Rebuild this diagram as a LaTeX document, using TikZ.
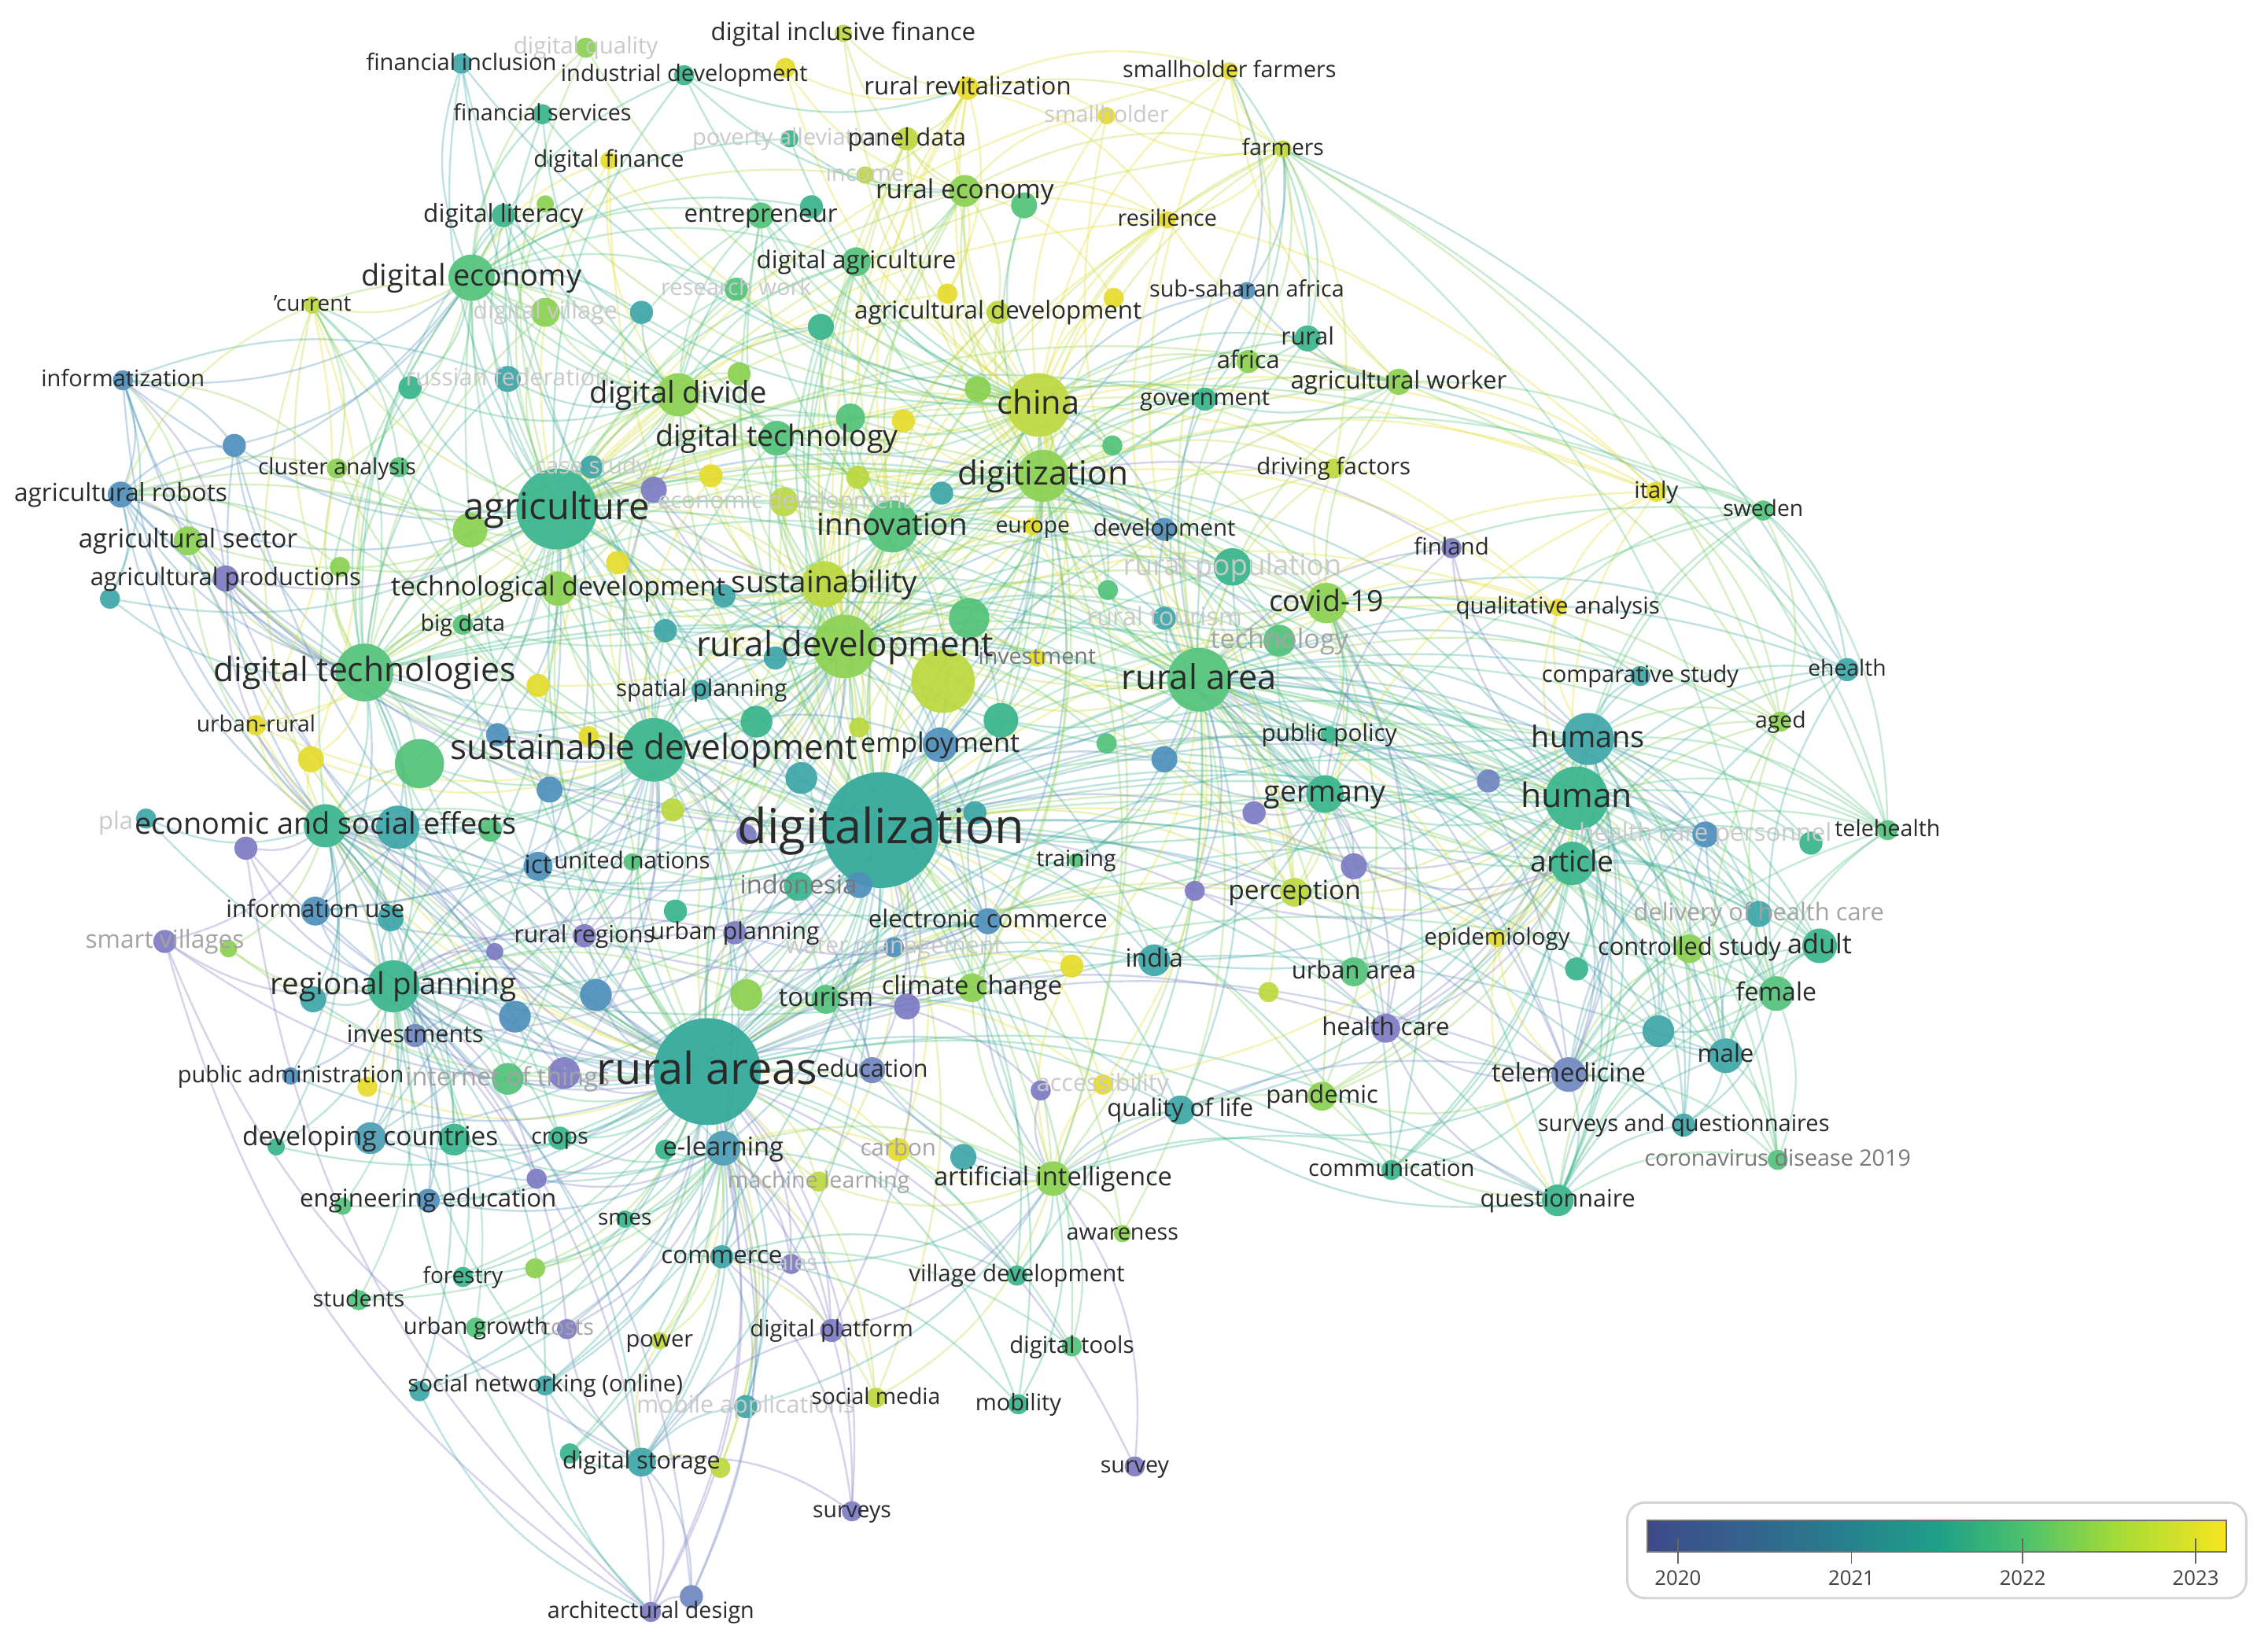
\documentclass[tikz,border=0pt]{standalone}
\usepackage{fontspec}
\setmainfont{Open Sans}
\pgfdeclarelayer{back}
\pgfdeclarelayer{bg}
\pgfdeclarelayer{fgl}
\pgfdeclarelayer{fg}
\pgfsetlayers{back,bg,main,fgl,fg}
\definecolor{v0}{HTML}{7D7BC3}
\definecolor{v0b}{HTML}{6F86C0}
\definecolor{v1}{HTML}{4E8FBB}
\definecolor{v1b}{HTML}{4D9DB6}
\definecolor{v2}{HTML}{3EA5A8}
\definecolor{v2c}{HTML}{2FA898}
\definecolor{v3}{HTML}{38B58C}
\definecolor{v4}{HTML}{52C27A}
\definecolor{v5}{HTML}{8AD152}
\definecolor{v6}{HTML}{BCD83E}
\definecolor{v7}{HTML}{E5DC2C}
\definecolor{lab}{HTML}{2A2A2A}
\definecolor{g1}{HTML}{C9C9C9}
\definecolor{g2}{HTML}{A3A3A3}
\definecolor{g3}{HTML}{777777}
\tikzset{
  dot/.style={circle, inner sep=0pt, outer sep=0pt, draw=none, fill opacity=0.92},
  lbl/.style={anchor=base, inner sep=0pt, outer sep=0pt},
  lnk/.style={line width=0.65pt, draw opacity=0.33},
}
\newcommand\dotn[5]{\colorlet{c#1}{#5}\node[dot, fill=#5, minimum size=#4pt] (#1) at (#2,#3) {};}
\newcommand\kw[8]{\dotn{#1}{#2}{#3}{#4}{#5}\begin{pgfonlayer}{fg}\node[lbl, text=#8, font=\fontsize{#7}{#7}\selectfont, yshift={-0.28*#7pt}] (l#1) at (#2,#3) {#6};\end{pgfonlayer}}
\newcommand\kwg[8]{\dotn{#1}{#2}{#3}{#4}{#5}\begin{pgfonlayer}{fgl}\node[lbl, text=#8, font=\fontsize{#7}{#7}\selectfont, yshift={-0.28*#7pt}] (l#1) at (#2,#3) {#6};\end{pgfonlayer}}
\newcommand\hub[2]{\foreach \b in {#2}{\draw[lnk, draw=c\b] (#1) to[bend left=20] (\b);}}
\begin{document}
\begin{tikzpicture}[x=0.5pt,y=-0.5pt]
\begin{pgfonlayer}{back}
\fill[white] (0,0) rectangle (1568,1131);
\end{pgfonlayer}
\path[use as bounding box] (0,0) rectangle (1568,1131);
% ---------- top
\kw{dif}{583}{23}{6}{v6}{digital inclusive finance}{8.5}{lab}
\kwg{dq}{405}{33}{7}{v5}{digital quality}{8}{g1}
\kw{fin}{319}{44}{7}{v2}{financial inclusion}{7.9}{lab}
\kw{ind}{473}{52}{7}{v3}{industrial development}{7.9}{lab}
\dotn{xy1}{543}{47}{7}{v7}
\kw{shf}{850}{49}{6}{v7}{smallholder farmers}{7.8}{lab}
\kw{rrv}{669}{61}{8}{v7}{rural revitalization}{8.5}{lab}
\kwg{sh}{765}{80}{6}{v7}{smallholder}{7.8}{g1}
\kw{fs}{375}{79}{7}{v3}{financial services}{7.8}{lab}
\kwg{pov}{546}{96}{6}{v3}{poverty alleviation}{7.9}{g1}
\kw{pd}{627}{96}{8}{v6}{panel data}{8.3}{lab}
\kw{far}{887}{103}{6}{v6}{farmers}{7.7}{lab}
\kw{df}{421}{111}{6}{v7}{digital finance}{8}{lab}
\kwg{inc}{598}{121}{6}{v6}{income}{7.9}{g1}
\dotn{xg0}{708}{142}{9}{v4}
\kw{re}{667}{132}{11}{v5}{rural economy}{9.1}{lab}
\dotn{xl1}{377}{141}{6}{v5}
\kw{dl}{348}{149}{8}{v3}{digital literacy}{8.6}{lab}
\dotn{xt0}{561}{143}{8}{v3}
\kw{ent}{526}{149}{9}{v4}{entrepreneur}{8.5}{lab}
\kw{res}{807}{152}{6}{v7}{resilience}{7.8}{lab}
\kw{dag}{592}{181}{10}{v4}{digital agriculture}{8.5}{lab}
\kw{dec}{326}{192}{16}{v4}{digital economy}{10.3}{lab}
\kwg{rw}{509}{200}{8}{v4}{research work}{7.9}{g1}
\kw{ssa}{862}{201}{6}{v1}{sub-saharan africa}{7.8}{lab}
\dotn{xy2}{655}{203}{7}{v7}
\dotn{xy3}{770}{206}{7}{v7}
\kw{cur}{216}{211}{6}{v6}{'current}{7.6}{lab}
\kwg{dv}{377}{216}{10}{v5}{digital village}{8.3}{g1}
\dotn{xt1}{443.5}{216}{8}{v2}
\kw{adv}{690}{216}{8}{v6}{agricultural development}{8.5}{lab}
\dotn{xt2}{567.5}{226}{9}{v3}
\kw{rur}{904}{234}{9}{v3}{rural}{8.3}{lab}
\kw{afr}{863}{250}{8}{v5}{africa}{8.4}{lab}
\dotn{xg2}{511}{258.5}{8}{v5}
\kw{infz}{85}{263}{7}{v1}{informatization}{7.9}{lab}
\dotn{xrf}{283.5}{268}{8}{v3}
\kwg{rf}{351}{262}{9}{v2}{russian federation}{8.3}{g1}
\kw{aw}{967}{264}{9}{v5}{agricultural worker}{8.5}{lab}
\dotn{xlg2}{676}{269}{9}{v5}
\kw{ddiv}{469}{273}{15}{v5}{digital divide}{10.4}{lab}
\kw{gov}{833}{276}{8}{v3}{government}{7.9}{lab}
\kw{chn}{718}{280}{22}{v6}{china}{11.3}{lab}
\dotn{xg3}{588}{289}{10}{v4}
\dotn{xy4}{624.5}{291}{8}{v7}
\dotn{xg4}{769}{308}{7}{v4}
\kw{dtech}{537}{303}{12}{v4}{digital technology}{10.2}{lab}
\dotn{xb1}{162}{308}{8}{v1}
\kwg{cs}{409}{323}{8}{v2}{case study}{8}{g1}
\dotn{xg1}{276}{323}{7}{v4}
\kw{ca}{233}{324}{7}{v5}{cluster analysis}{7.7}{lab}
\kw{drv}{922}{324}{7}{v6}{driving factors}{8}{lab}
\dotn{xy5}{491.6}{329}{8}{v7}
\dotn{xlg3}{593}{330}{8}{v6}
\kw{dgt}{721}{329}{18}{v5}{digitization}{11.5}{lab}
\dotn{xp1}{452}{338.6}{9}{v0}
\dotn{xt3}{651}{341}{8}{v2}
\kw{ita}{1145}{340}{7}{v7}{italy}{7.9}{lab}
\kw{ar}{83.5}{342}{9}{v1}{agricultural robots}{8.6}{lab}
\kwg{edv}{542}{347}{10}{v6}{economic development}{8}{g1}
\kw{ag}{385}{352}{28}{v3}{agriculture}{12.8}{lab}
\kw{swe}{1219}{353}{7}{v4}{sweden}{7.7}{lab}
\kw{inn}{617}{364}{18}{v4}{innovation}{10.5}{lab}
\kw{eur}{714}{364}{6}{v7}{europe}{7.7}{lab}
\kw{dev}{805}{366}{8}{v1}{development}{8}{lab}
\dotn{xlg1}{325}{366.5}{12}{v5}
\kw{as}{130}{374}{10}{v5}{agricultural sector}{9}{lab}
\kw{fnl}{1003.5}{379}{7}{v0}{finland}{8}{lab}
% ---------- left middle
\kw{apr}{156}{400}{9}{v0}{agricultural productions}{8.4}{lab}
\dotn{xg5}{235}{392}{7}{v5}
\dotn{xt4}{76}{414}{7}{v2}
\kw{tdev}{386}{407}{12}{v5}{technological development}{9.2}{lab}
\kw{bd}{320}{432}{7}{v4}{big data}{7.8}{lab}
\dotn{xy9}{427}{389}{8}{v7}
\kw{dtes}{252}{465}{20}{v4}{digital technologies}{11.6}{lab}
\dotn{xy6}{372}{474}{8}{v7}
\kw{urr}{177}{501.5}{7}{v7}{urban-rural}{7.7}{lab}
\dotn{xtb1}{344}{508}{8}{v1}
\dotn{xy7}{215}{525}{9}{v7}
\dotn{xg6}{290}{528}{17}{v4}
\dotn{xb2}{380}{546}{9}{v1}
\dotn{pla}{101}{566}{7}{v2}
\begin{pgfonlayer}{fgl}\node[lbl, anchor=base east, text=g1, font=\fontsize{8.4}{8.4}\selectfont, yshift={-0.28*8.4pt}] (lpla) at (92,569) {pla};\end{pgfonlayer}
\kw{esoc}{225}{571}{15}{v3}{economic and social effects}{10.3}{lab}
\dotn{esoc2}{275}{572}{15}{v2}
\dotn{xg7}{339}{574}{8}{v4}
\dotn{xp2}{170}{586.5}{8}{v0}
\kw{ict}{372}{599}{10}{v1}{ict}{8.7}{lab}
\kw{un}{437}{596}{6}{v4}{united nations}{8}{lab}
\kw{iu}{218}{630}{10}{v1}{information use}{8.3}{lab}
\dotn{iu2}{270}{635}{9}{v2}
\kwg{sv}{114}{651}{8}{v0}{smart villages}{8.6}{g2}
\dotn{xg8}{158}{656}{6}{v5}
\dotn{xp3}{342}{658}{6}{v0}
\kw{rp}{272}{682}{18}{v3}{regional planning}{10.5}{lab}
\dotn{xt5}{216.5}{691}{9}{v2}
\dotn{xtb2}{356}{703}{11}{v1}
\kw{inv}{287}{716}{8}{v0b}{investments}{8.3}{lab}
\kw{pa}{201}{744}{6}{v1}{public administration}{7.9}{lab}
\dotn{xy8}{254}{751.5}{7}{v7}
\kwg{iot}{351}{746}{11}{v4}{internet of things}{8.8}{g2}
\dotn{xp4}{390}{742}{11}{v0}
% ---------- centre
\kw{sus}{570}{404}{16}{v6}{sustainability}{10.5}{lab}
\dotn{xt6}{500.5}{412}{8}{v2}
\dotn{xg10}{766}{408}{7}{v4}
\dotn{xg9}{670}{427.5}{14}{v4}
\dotn{xt7}{460}{436}{8}{v2}
\kw{rd}{584}{447}{22}{v5}{rural development}{11.9}{lab}
\dotn{xt8}{536}{455}{8}{v2}
\kwg{invs}{717}{455}{6}{v7}{investment}{7.8}{g3}
\dotn{xlb}{652}{471}{22}{v6}
\kw{sp}{485}{477}{7}{v2}{spatial planning}{8}{lab}
\dotn{xg11}{523}{499}{11}{v3}
\dotn{xl2}{594}{503}{7}{v6}
\dotn{xgt}{692}{498}{12}{v3}
\dotn{xg12}{765}{514}{7}{v4}
\dotn{xy10}{407}{509}{7}{v7}
\kw{sd}{452}{518.5}{22}{v3}{sustainable development}{12}{lab}
\kw{emp}{650}{515}{12}{v1}{employment}{9.3}{lab}
\dotn{xt9}{554}{538}{11}{v2}
\dotn{xl3}{465}{560}{8}{v6}
\dotn{xt10}{674}{562}{8}{v2}
\kw{dz}{609}{574}{40}{v2c}{digitalization}{16.7}{lab}
\dotn{xp5}{516}{577}{7}{v0}
\dotn{xb3}{594}{612}{9}{v1}
\kwg{indo}{552}{613}{10}{v3}{indonesia}{8.9}{g3}
\kw{trn}{744}{595}{5}{v4}{training}{7.7}{lab}
\dotn{ers}{467}{630}{8}{v3}
\kw{rreg}{404}{647}{8}{v0}{rural regions}{8.2}{lab}
\kw{up}{508}{645}{8}{v0}{urban planning}{8.2}{lab}
\kw{ec}{683}{637}{9}{v1}{electronic commerce}{8.5}{lab}
\kwg{wm}{618}{655}{7}{v1}{water management}{8.2}{g1}
\dotn{xy11}{741}{668}{8}{v7}
\kw{cc}{672}{683}{10}{v5}{climate change}{8.9}{lab}
\dotn{xbt}{412}{688}{11}{v1}
\dotn{xlg4}{516}{688}{11}{v5}
\kw{tou}{571}{691}{10}{v4}{tourism}{9}{lab}
\dotn{xp6}{627}{696}{9}{v0}
\kw{ra}{489}{741}{37}{v2c}{rural areas}{15.2}{lab}
\kw{edu}{603}{740}{9}{v0b}{education}{8.3}{lab}
% ---------- right centre
\kwg{rpop}{852}{392}{13}{v3}{rural population}{10}{g1}
\kw{cov}{917}{417}{14}{v5}{covid-19}{10.2}{lab}
\kw{qa}{1077}{420}{6}{v7}{qualitative analysis}{8}{lab}
\kwg{rt}{805}{427.5}{8}{v2}{rural tourism}{8.8}{g1}
\kwg{tech}{884.5}{443}{11}{v4}{technology}{9.3}{g2}
\kw{cmp}{1134}{467.5}{7}{v2}{comparative study}{7.9}{lab}
\kw{eh}{1277}{463}{8}{v2}{ehealth}{7.7}{lab}
\kw{rar}{829}{470}{22}{v4}{rural area}{11.8}{lab}
\kw{agd}{1231}{499}{7}{v5}{aged}{7.7}{lab}
\kw{pp}{919}{508}{6}{v3}{public policy}{8.1}{lab}
\kw{hms}{1098}{511}{18}{v2}{humans}{10.3}{lab}
\dotn{xtb3}{805}{525}{9}{v1}
\dotn{xp8}{1029}{540}{8}{v0b}
\kw{ger}{916}{549}{13}{v3}{germany}{10.2}{lab}
\kw{hum}{1090}{552}{22}{v3}{human}{11.6}{lab}
\dotn{xp7}{867}{562}{8}{v0}
\kw{th}{1305}{574}{7}{v4}{telehealth}{7.8}{lab}
\kwg{hcp}{1179}{577}{9}{v1}{health care personnel}{8.6}{g1}
\dotn{xgt2}{1252}{583}{8}{v3}
\kw{art}{1087}{597}{15}{v3}{article}{10.1}{lab}
\dotn{xp9}{936}{599}{9}{v0}
\dotn{xp10}{826}{616}{7}{v0}
\kw{per}{895}{617}{10}{v6}{perception}{9.1}{lab}
\kwg{dhc}{1216}{632}{9}{v2}{delivery of health care}{8.4}{g2}
\kw{epi}{1035}{649}{6}{v7}{epidemiology}{8}{lab}
\kw{adu}{1258}{654}{12}{v3}{adult}{9.3}{lab}
\kw{cst}{1168}{656}{10}{v5}{controlled study}{8.4}{lab}
\kw{ind2}{798}{664}{11}{v2}{india}{8.7}{lab}
\dotn{xtg}{1090}{670}{8}{v3}
\kw{ua}{936}{672}{10}{v4}{urban area}{8.4}{lab}
\dotn{xl4}{877}{686}{7}{v6}
\kw{fem}{1228}{687}{12}{v4}{female}{8.7}{lab}
\kw{hc}{958}{711}{10}{v0}{health care}{8.5}{lab}
\dotn{xt11}{1146.5}{713}{11}{v2}
\kw{mal}{1193}{730}{12}{v2}{male}{8.5}{lab}
\kw{tm}{1084.5}{743}{12}{v0b}{telemedicine}{8.9}{lab}
\kwg{acc}{762.5}{750}{7}{v7}{accessibility}{8.3}{g1}
\dotn{xp11}{719.5}{754}{7}{v0}
\kw{pan}{914}{758}{10}{v5}{pandemic}{8.4}{lab}
\kw{qol}{816}{767.5}{10}{v2}{quality of life}{8.4}{lab}
\kw{saq}{1164}{778}{8}{v2}{surveys and questionnaires}{7.9}{lab}
\kwg{cd}{1229}{802}{7}{v4}{coronavirus disease 2019}{7.8}{g3}
\kw{com}{962}{809}{7}{v3}{communication}{7.9}{lab}
\kw{que}{1077}{830}{11}{v3}{questionnaire}{8.3}{lab}
\kw{svy}{784.5}{1014}{7}{v0}{survey}{7.8}{lab}
% ---------- bottom
\kw{dc}{256}{787}{11}{v1b}{developing countries}{9.1}{lab}
\dotn{dc2}{314}{788}{11}{v3}
\dotn{xt12}{191}{793}{6}{v3}
\kw{crp}{387}{787}{8}{v3}{crops}{7.7}{lab}
\dotn{xp12}{371}{815}{7}{v0}
\kw{ee}{296}{830}{8}{v1}{engineering education}{8.5}{lab}
\dotn{xg13}{237}{834}{6}{v4}
\dotn{xl5}{370}{877}{7}{v5}
\kw{fst}{320}{883}{7}{v3}{forestry}{7.6}{lab}
\kw{stu}{248}{899}{7}{v4}{students}{7.8}{lab}
\kw{ug}{329}{918}{7}{v4}{urban growth}{7.9}{lab}
\kwg{cst2}{392}{919}{7}{v0}{costs}{7.8}{g2}
\kw{sno}{377}{958}{7}{v2}{social networking (online)}{8}{lab}
\dotn{xt13}{290}{962}{7}{v2}
\dotn{xtg2}{394}{1005}{7}{v3}
\kw{ds}{443.5}{1011}{10}{v2}{digital storage}{8.3}{lab}
\dotn{xl6}{498}{1015}{7}{v6}
\dotn{xg14}{460}{795}{7}{v3}
\kw{el}{500}{794}{12}{v1b}{e-learning}{8.9}{lab}
\kwg{crb}{621}{795}{8}{v7}{carbon}{8}{g2}
\dotn{xt14}{666}{800}{9}{v2}
\kwg{ml}{566}{817}{7}{v6}{machine learning}{7.8}{g2}
\kw{ai}{728}{815}{12}{v5}{artificial intelligence}{8.9}{lab}
\kw{sme}{432}{843}{6}{v3}{smes}{7.6}{lab}
\kw{awa}{776}{853}{6}{v5}{awareness}{7.8}{lab}
\kw{cmm}{499}{869}{8}{v2}{commerce}{8.5}{lab}
\kwg{sal}{547}{874}{7}{v0}{sales}{7.8}{g1}
\kw{vd}{703}{882}{7}{v3}{village development}{8}{lab}
\kw{dp}{575}{920}{8}{v0}{digital platform}{7.9}{lab}
\kw{pow}{456}{927}{6}{v6}{power}{7.9}{lab}
\kw{dto}{741}{931}{7}{v4}{digital tools}{8}{lab}
\kw{smd}{605.5}{966.5}{7}{v6}{social media}{7.7}{lab}
\kw{mob}{704}{971}{7}{v3}{mobility}{7.9}{lab}
\kwg{mapp}{515.6}{972.6}{8}{v2}{mobile applications}{8.3}{g1}
\kw{svs}{589}{1045}{7}{v0}{surveys}{7.7}{lab}
\dotn{xp13}{478}{1104}{8}{v0b}
\kw{arc}{450}{1114.6}{7}{v0}{architectural design}{7.8}{lab}
% ---------- links
\begin{pgfonlayer}{bg}
\hub{dz}{ag,ra,rd,sd,rar,hum,hms,art,dgt,chn,inn,dtes,esoc,rp,sus,ddiv,dtech,dec,emp,ec,cc,tou,edu,ger,per,ind2,ua,hc,tm,el,ai,cmm,dp,qol,pan,com,que,mal,fem,adu,cst,hcp,cov,rpop,tech,pp,iu,ict,un,rreg,up,wm,indo,trn,tdev,bd,dl,ent,dag,adv,gov,aw,rur,drv,dev,eur,dc,ee,iot,inv,crp,ds,sno,mob,smd,dto,vd,crb,ml,awa,xlb,xg9,xgt,xt9,xb3,xt10,xg11,xlg4,xp6,xp9,xp8,xt11,epi,dhc,saq,th,xtb3,sp,xlg2,re,rrv,pd,fin,df,apr,ar,as,esoc2,xg6,xb2,xbt,cs,edv,xt3,xy11,acc,qa,cmp}
\hub{ra}{ag,rd,sd,dtes,esoc,esoc2,rp,iu,iu2,dc,dc2,ee,fst,stu,ug,sno,ds,el,cmm,sme,pow,dp,mapp,smd,svs,arc,xp13,crp,iot,inv,pa,xy8,xtb2,xt5,sv,xg8,xp2,ict,un,rreg,up,tou,edu,cc,ai,qol,hum,hms,art,rar,tm,hc,per,ind2,ger,dgt,inn,sus,ddiv,dec,ar,as,apr,infz,xb1,bd,tdev,xg6,xb2,xy7,urr,xbt,xlg4,xp4,xp12,xl5,xt12,xg13,xt13,xtg2,xl6,crb,ml,vd,mob,dto,com,que,mal,fem,svy,cst2,sal,xt14,xg14,chn,emp,ec,wm,indo,xp6,xt9,pla,xp3,xg7}
\hub{ag}{dec,dl,fin,fs,ind,df,dv,cur,infz,xrf,rf,xb1,ca,xg1,ar,xlg1,as,apr,xt4,xg5,tdev,bd,dtes,cs,xp1,xy5,ddiv,dtech,dag,ent,rw,xt1,xt2,chn,dgt,inn,sus,rd,sd,esoc,rp,rar,hum,ger,cov,rpop,edv,xy9,xt6,xt7,sp,ict,iu,iot,ai,el,dc,xy6,urr,xtb1,xg6,dev,eur,adv,re,far,shf,res,xg2,aw,gov,swe,ita,xl1,dq,xy2,xg3}
\hub{rd}{sus,inn,dgt,chn,ddiv,dtech,dag,ent,adv,re,rrv,pd,xg3,xy4,xlg3,edv,xt3,xt6,xt7,xt8,sp,xg11,xl2,xgt,xg12,xy10,sd,emp,xt9,xl3,xlb,invs,xg9,xg10,rar,cov,rpop,rt,tech,dev,eur,gov,aw,afr,tou,cc,ec,tdev,dtes,esoc,rp,iu,ict,un,indo,up,rreg,ger,per,ind2,hum,qa,res,far,drv,xy9,cs,xp1,xy5,xt2,xg2}
\hub{rar}{hum,hms,art,ger,per,ind2,ua,hc,tm,pan,cov,rpop,rt,tech,pp,xtb3,xp7,xp8,xp9,xp10,epi,cst,dhc,cmp,qa,fnl,ita,swe,aw,drv,gov,rur,afr,ssa,dev,eur,chn,dgt,inn,sus,emp,ec,cc,qol,acc,com,que,ai,awa,vd,saq,cd,mal,fem,adu,eh,agd,th,hcp,xt11,xtg,xl4,xg10,xg12,xgt,xlb,xg9,invs,trn,xy11,res,far,shf,sh}
\hub{hum}{tm,hc,saq,que,cd,mal,fem,adu,cst,dhc,hcp,th,eh,agd,cmp,epi,pan,com,qol,xt11,xtg,xgt2,xp8,ua,per,ger,cov,fnl,ita,swe,qa,pp,rpop,tech,ind2,xp9,acc,hms,art}
\hub{hms}{tm,hc,saq,que,cd,mal,fem,adu,cst,dhc,hcp,th,eh,agd,cmp,epi,pan,com,xt11,xtg,xgt2,xp8,ua,per,ger,cov,fnl,qa,art,sd,rp,esoc,ag,swe}
\hub{art}{tm,hc,saq,que,cd,mal,fem,adu,cst,dhc,hcp,th,eh,agd,epi,pan,com,qol,xt11,xtg,xgt2,ua,per,ger,cov,ind2,xp9,xp10}
\hub{tm}{hc,saq,que,cd,mal,fem,adu,cst,dhc,hcp,th,eh,pan,com,qol,xt11,ua,epi}
\hub{que}{saq,cd,mal,fem,adu,cst,com,pan,xt11,hc,qol,epi}
\hub{mal}{fem,adu,cst,dhc,hcp,cd,saq,xt11,th,agd}
\hub{fem}{adu,cst,dhc,hcp,cd,saq,xt11,th,agd,eh}
\hub{chn}{dgt,ddiv,dtech,dec,rrv,pd,df,inc,re,xg0,far,shf,sh,res,dag,adv,ssa,rur,afr,aw,gov,drv,ita,ent,rw,xy2,xy3,xt2,xg3,xy4,xg4,xlg2,xlg3,edv,xt3,eur,dev,dif,ind,pov,dq,inn,sus,cov,fin,fs,dl,xl1,xt0,qa,per,xy1,xg10,xlb,invs,emp,sd,tou,cc,ai}
\hub{dgt}{ddiv,dtech,dec,rrv,pd,re,xg0,far,res,dag,adv,ssa,rur,afr,aw,gov,drv,ita,swe,fnl,ent,xy2,xy3,xg3,xy4,xg4,xlg2,xlg3,edv,xt3,eur,dev,inn,sus,cov,rpop,rt,tech,qa,per,ger,hum,hms,art,xlb,xg9,xg10,xgt,emp,ec,cc,ai,tou,tm}
\hub{sd}{dtes,esoc,esoc2,rp,iu,tdev,bd,xy6,urr,xy7,xtb1,xg6,xb2,ict,un,sp,xg11,xt7,xt8,xy10,xl3,xp5,indo,ers,rreg,up,tou,xbt,xlg4,sus,inn,ddiv,dtech,dec,cs,xp1,xy5,xy9,xt6,apr,as,ar,ca,xg1,iot,xp4,inv,dc,el,emp,ec,cc,edu}
\hub{dtes}{ar,as,apr,infz,xb1,ca,xg1,xt4,xg5,urr,xy7,xtb1,xg6,xb2,esoc,esoc2,rp,iu,iu2,dec,dl,cur,dv,xrf,rf,xlg1,bd,tdev,cs,ddiv,dtech,sus,inn,dgt,chn,rar,hum,art,ger}
\hub{esoc}{ar,as,apr,infz,xb1,pla,sv,xg8,xp2,xp3,iu,iu2,xt5,xtb2,inv,pa,xy8,iot,xp4,dc,dc2,xt12,ee,crp,rp,xg6,xy7,urr,xg7,ict,un,rreg,xbt,esoc2,dec,cur}
\hub{rp}{sv,xg8,xp2,xp3,iu,iu2,xt5,xtb2,inv,pa,xy8,iot,xp4,dc,dc2,xt12,ee,crp,xp12,xg13,fst,stu,ug,sno,xt13,cst2,ict,un,rreg,up,xbt,xlg4,tou,el,arc,xp13,ds,esoc2,xg7}
\hub{dec}{fin,fs,df,dl,xl1,ind,dq,dv,cur,xt1,rw,ddiv,dtech,xrf,rf,infz,ca,xg1,xb1,ar,pov,ent,xt0,dag,inc}
\hub{ddiv}{dl,fin,fs,df,dv,rf,xrf,xt1,rw,ent,xt0,xg2,dtech,cs,xp1,xy5,dag,xt2,inn,sus,tdev,xlg1,dec}
\hub{inn}{sus,dtech,dag,ent,xg2,xt2,xg3,xy4,xlg3,edv,xt3,eur,dev,xg9,xlb,xt6,xt8,xl2,xgt,emp,rar,cov,rpop,rt,tech,re,rrv,pd,adv,gov}
\hub{sus}{dtech,dag,edv,xlg3,xy4,xt6,xt7,xt8,sp,xg11,xl2,xy9,xy5,xp1,cs,tdev,xlg1,bd,xy6,xtb1,emp,xt9,rar,cov,ger,per}
\hub{el}{cmm,sme,pow,dp,mapp,ds,sno,arc,xp13,svs,fst,stu,ug,cst2,xl5,xp12,xl6,xtg2,sal,ml,crb,xg14,crp,ee,dc,dc2,xt13,ai,smd,vd}
\hub{ai}{awa,vd,dto,mob,smd,crb,ml,xt14,acc,xp11,qol,pan,com,svy,edu,cc,xy11,ec,tou,dp,mapp,cmm,que,tm}
\hub{ds}{arc,xp13,sno,xtg2,xl6,svs,dp,mapp,cst2,pow,sv,rp}
\hub{arc}{xp13,sv,xp2,rp,sno,xt13}
\hub{cmm}{sme,pow,dp,mapp,sal,smd,svs,mob,dto,vd}
\hub{tou}{cc,edu,xp6,xlg4,ec,wm,up,acc,xy11,qol,ind2,per,xp11}
\hub{ec}{wm,cc,xy11,trn,xt10,xb3,emp,indo,up,rreg}
\hub{cov}{rpop,rt,tech,pp,ger,per,pan,com,qa,drv,aw,hc,tm,cmp,agd,eh,th}
\hub{ger}{per,pp,xp7,xp9,xp10,ua,hc,xtb3,ind2,rt,tech,rpop,fnl,swe,ita}
\hub{aw}{far,shf,res,ssa,rur,afr,gov,drv,ita,swe,eh,agd}
\hub{far}{shf,sh,res,ssa,rur,afr,gov,drv,th,agd,eh,fem}
\hub{shf}{ssa,afr,rur}
\hub{swe}{th,eh,agd}
\hub{ita}{th,swe,agd}
\hub{qa}{swe,ita}
\hub{re}{rrv,pd,inc,pov,xy1,ind,dif,xg0,res,sh,far,adv,dag,xy2,xy3,ita}
\hub{rrv}{pd,inc,dif,xy1,ind,sh,shf,far,res,xy2}
\hub{infz}{ar,as,xb1,apr,xt4,ca,rf}
\hub{ar}{as,apr,xt4,xb1,ca,xg5,xlg1,tdev,bd,cur}
\hub{cur}{ca,xg1,dv,xrf,dtes,xy7,urr,bd}
\end{pgfonlayer}
% ---------- legend
\begin{pgfonlayer}{fg}
\draw[rounded corners=6pt, draw=black!17, line width=0.8pt, fill=white] (1125,1039) rectangle (1553,1105);
\shade[left color={rgb,255:red,62;green,74;blue,137}, right color={rgb,255:red,49;green,104;blue,142}] (1139,1051.5) rectangle (1220.5,1073);
\shade[left color={rgb,255:red,49;green,104;blue,142}, right color={rgb,255:red,38;green,130;blue,142}] (1220,1051.5) rectangle (1280.5,1073);
\shade[left color={rgb,255:red,38;green,130;blue,142}, right color={rgb,255:red,31;green,160;blue,136}] (1280,1051.5) rectangle (1340.5,1073);
\shade[left color={rgb,255:red,31;green,160;blue,136}, right color={rgb,255:red,74;green,193;blue,109}] (1340,1051.5) rectangle (1398.5,1073);
\shade[left color={rgb,255:red,74;green,193;blue,109}, right color={rgb,255:red,160;green,218;blue,57}] (1398,1051.5) rectangle (1460.5,1073);
\shade[left color={rgb,255:red,160;green,218;blue,57}, right color={rgb,255:red,247;green,229;blue,30}] (1460,1051.5) rectangle (1539,1073);
\draw[black!55, line width=0.5pt] (1139,1051.5) rectangle (1539,1073);
\foreach \xx/\yy in {1160/2020,1280/2021,1398.4/2022,1518/2023}{
  \draw[black!60, line width=0.5pt] (\xx,1064) -- (\xx,1081);
  \node[text=black!75, font=\fontsize{7}{7}\selectfont, inner sep=0pt] (ly\yy) at (\xx,1091) {\yy};
}
\end{pgfonlayer}
\end{tikzpicture}
\end{document}
